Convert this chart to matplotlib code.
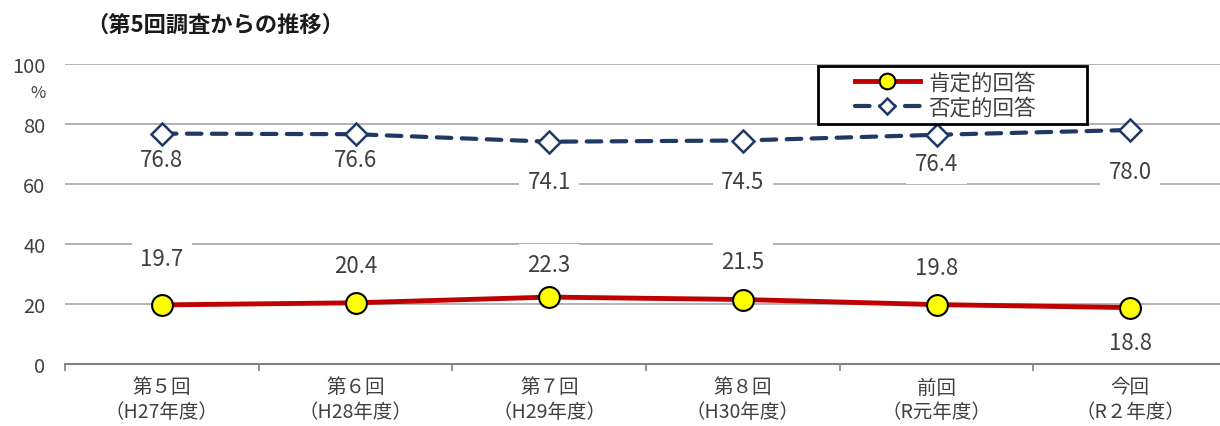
import numpy as np
import matplotlib
matplotlib.use("Agg")
import matplotlib.pyplot as plt
from matplotlib.patches import Rectangle

plt.rcParams['font.family'] = ['Noto Sans CJK JP', 'DejaVu Sans']

# data
categories = ['第５回\n（H27年度）', '第６回\n（H28年度）', '第７回\n（H29年度）',
              '第８回\n（H30年度）', '前回\n（R元年度）', '今回\n（R２年度）']
positive = [19.7, 20.4, 22.3, 21.5, 19.8, 18.8]
negative = [76.8, 76.6, 74.1, 74.5, 76.4, 78.0]

# label offsets (data units), placed by hand like the source
pos_off = [15.3, 12.3, 11.0, 12.5, 12.5, -11.5]
neg_off = [-8.5, -8.3, -13.4, -13.8, -9.7, -14.0]

fig = plt.figure(figsize=(12.2, 4.27), dpi=100)
ax = fig.add_axes([65 / 1220, 1 - 365 / 427, (1227 - 65) / 1220, 300 / 427])

x = np.arange(len(categories))
grid_c = '#a6a6a6'
text_c = '#404040'

for yv in range(20, 101, 20):
    ax.axhline(yv, color=grid_c, lw=1.2, zorder=0)

ax.plot(x, negative, color='#1f3864', lw=3, ls=(0, (3.5, 2.5)), marker='D',
        markersize=11, markerfacecolor='white', markeredgecolor='#1f3864',
        markeredgewidth=1.8, label='否定的回答', zorder=3, dash_capstyle='round')
ax.plot(x, positive, color='#c00000', lw=3.5, marker='o', markersize=15,
        markerfacecolor='#ffff00', markeredgecolor='black', markeredgewidth=1.5,
        label='肯定的回答', zorder=4)

for i in range(len(x)):
    ax.text(x[i], positive[i] + pos_off[i], f'{positive[i]:.1f}', ha='center', va='center',
            fontsize=16, color=text_c, zorder=2,
            bbox=dict(facecolor='white', edgecolor='none', pad=6))
    ax.text(x[i], negative[i] + neg_off[i], f'{negative[i]:.1f}', ha='center', va='center',
            fontsize=16, color=text_c, zorder=2,
            bbox=dict(facecolor='white', edgecolor='none', pad=6))

ax.set_xlim(-0.5, len(x) - 0.5)
ax.set_ylim(0, 100)
ax.set_yticks(range(0, 101, 20))
ax.set_yticklabels([str(v) for v in range(0, 101, 20)], fontsize=14.5, color=text_c)
ax.tick_params(axis='y', length=0, pad=14)
ax.set_xticks(x)
ax.set_xticklabels(categories, fontsize=14, color=text_c, linespacing=1.2)
ax.set_xticks(np.arange(-0.5, len(x), 1), minor=True)
ax.tick_params(axis='x', which='major', length=0, pad=9)
ax.tick_params(axis='x', which='minor', length=5, color='#808080', width=1.2, direction='out')

for s in ['top', 'right', 'left']:
    ax.spines[s].set_visible(False)
ax.spines['bottom'].set_color('#808080')
ax.spines['bottom'].set_linewidth(1.5)

fig.text(38 / 1220, 1 - 93 / 427, '%', fontsize=12, color=text_c, ha='center', va='center')
fig.text(86 / 1220, 1 - 25 / 427, '（第5回調査からの推移）', fontsize=16, fontweight='bold',
         color='#1a1a1a', ha='left', va='center')

# legend box drawn by hand, legend inside without frame
fig.patches.append(Rectangle((818 / 1220, 1 - 125 / 427), (1087 - 818) / 1220, 58 / 427,
                             transform=fig.transFigure, facecolor='white',
                             edgecolor='black', lw=2, zorder=4))
handles, labels = ax.get_legend_handles_labels()
leg = fig.legend(handles[::-1], labels[::-1], loc='center left',
                 bbox_to_anchor=(855 / 1220, 1 - 96 / 427),
                 fontsize=15.5, frameon=False, handlelength=3.0, markerscale=0.75,
                 borderpad=0, labelspacing=0.15, borderaxespad=0, handletextpad=0.4)
leg.set_zorder(6)
for t in leg.get_texts():
    t.set_color(text_c)

fig.savefig('out.png', dpi=100)
